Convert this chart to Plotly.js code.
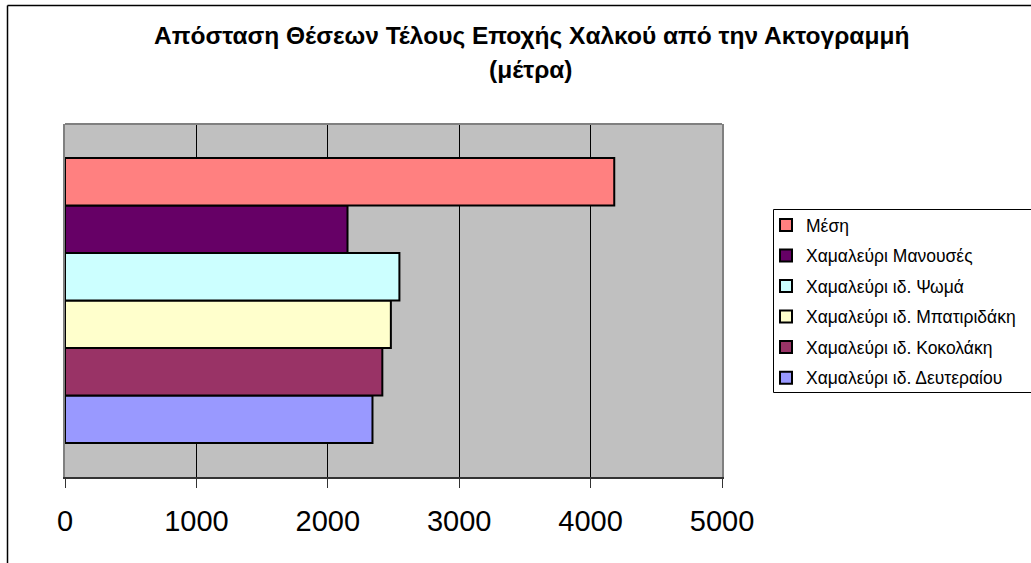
<!DOCTYPE html>
<html>
<head>
<meta charset="utf-8">
<script src="https://cdn.plot.ly/plotly-3.0.1.min.js"></script>
<style>html,body{margin:0;padding:0;background:#fff;}#chart{width:1031px;height:563px;}</style>
</head>
<body>
<div id="chart"></div>
<script>
// Series (bottom to top as drawn)
const seriesNames = [
  "Χαμαλεύρι ιδ. Δευτεραίου",
  "Χαμαλεύρι ιδ. Κοκολάκη",
  "Χαμαλεύρι ιδ. Μπατιριδάκη",
  "Χαμαλεύρι ιδ. Ψωμά",
  "Χαμαλεύρι Μανουσές",
  "Μέση"
];
const seriesValues = [2340, 2415, 2480, 2545, 2150, 4180];
const seriesColors = ["#9999FF", "#993366", "#FFFFCC", "#CCFFFF", "#660066", "#FF8080"];
const category = ["Θέσεις"];
const xTicks = [0, 1000, 2000, 3000, 4000, 5000];
const titleLines = ["Απόσταση Θέσεων Τέλους Εποχής Χαλκού από την Ακτογραμμή", "(μέτρα)"];

const FONT = "Arial, 'Liberation Sans', sans-serif";

const traces = seriesNames.map((n, i) => ({
  type: "bar",
  orientation: "h",
  name: n,
  y: category,
  x: [seriesValues[i]],
  legendgroup: "g" + i,
  legendrank: seriesNames.length - i,
  marker: { color: seriesColors[i], line: { color: "#000000", width: 2 } },
  hoverinfo: "name+x"
}));

const L = 65, R = 722, T = 124, B = 477, W = 1031, H = 563;
const px2x = p => (p - L) / (R - L);
const py2y = p => (B - p) / (B - T);

const layout = {
  width: W, height: H,
  margin: { l: L, r: W - R, t: T, b: H - B, pad: 0, autoexpand: false },
  paper_bgcolor: "#FFFFFF",
  plot_bgcolor: "#C0C0C0",
  font: { family: FONT, color: "#000000" },
  barmode: "group",
  bargap: 0.193,
  bargroupgap: 0,
  showlegend: true,
  legend: {
    x: px2x(766), xanchor: "left",
    y: py2y(207), yanchor: "top",
    bgcolor: "rgba(0,0,0,0)",
    borderwidth: 0,
    font: { family: FONT, size: 17.5, color: "#000000" },
    traceorder: "grouped",
    tracegroupgap: 4.8
  },
  xaxis: {
    range: [0, 5000],
    tickvals: xTicks,
    ticktext: xTicks.map(String),
    showgrid: true, gridcolor: "#000000", gridwidth: 1,
    zeroline: false,
    showline: true, linecolor: "#333333", linewidth: 2, mirror: false,
    ticks: "outside", ticklen: 9, tickcolor: "#333333", tickwidth: 1,
    ticklabelstandoff: 8,
    tickfont: { family: FONT, size: 29, color: "#000000" },
    automargin: false,
    fixedrange: true
  },
  yaxis: {
    type: "category",
    showticklabels: false,
    showgrid: false, zeroline: false,
    showline: true, linecolor: "#808080", linewidth: 2, mirror: true,
    ticks: "",
    automargin: false,
    fixedrange: true
  },
  annotations: [
    { text: "<b>" + titleLines[0] + "</b>", xref: "paper", yref: "paper", x: px2x(531), y: py2y(35), xanchor: "center", yanchor: "middle", showarrow: false, font: { family: FONT, size: 24.5, color: "#000000" } },
    { text: "<b>" + titleLines[1] + "</b>", xref: "paper", yref: "paper", x: px2x(531), y: py2y(70), xanchor: "center", yanchor: "middle", showarrow: false, font: { family: FONT, size: 24.5, color: "#000000" } }
  ],
  shapes: [
    // outer chart border (left and top)
    { type: "line", xref: "paper", yref: "paper", x0: px2x(7.5), x1: px2x(7.5), y0: py2y(600), y1: py2y(5.5), line: { color: "#000000", width: 1.5 } },
    { type: "line", xref: "paper", yref: "paper", x0: px2x(7.5), x1: px2x(1100), y0: py2y(5.5), y1: py2y(5.5), line: { color: "#000000", width: 1.5 } },
    // top edge of plot area
    { type: "line", xref: "paper", yref: "paper", x0: 0, x1: 1, y0: 1, y1: 1, line: { color: "#808080", width: 2 } },
    // legend box
    { type: "rect", xref: "paper", yref: "paper", x0: px2x(773.5), x1: px2x(1100), y0: py2y(392.5), y1: py2y(209.5), line: { color: "#000000", width: 1 }, fillcolor: "rgba(0,0,0,0)", layer: "below" }
  ]
};

Plotly.newPlot("chart", traces, layout, { displayModeBar: false, staticPlot: true });
</script>
</body>
</html>
